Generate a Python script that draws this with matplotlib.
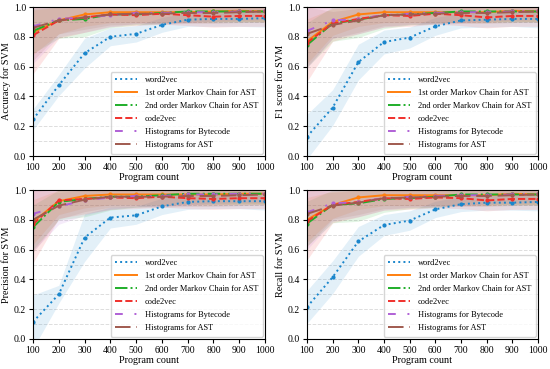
import matplotlib
matplotlib.use("Agg")
import matplotlib.pyplot as plt
import numpy as np

plt.rcParams['font.family'] = ['Liberation Serif', 'DejaVu Serif']
plt.rcParams['mathtext.fontset'] = 'stix'

program_count = [100, 200, 300, 400, 500, 600, 700, 800, 900, 1000]
series_names = ["word2vec", "1st order Markov Chain for AST", "2nd order Markov Chain for AST",
                "code2vec", "Histograms for Bytecode", "Histograms for AST"]

# Accuracy
acc_word2vec = [0.245, 0.475, 0.69, 0.80, 0.82, 0.88, 0.915, 0.92, 0.92, 0.925]
acc_markov1 = [0.83, 0.91, 0.95, 0.965, 0.965, 0.965, 0.965, 0.97, 0.975, 0.97]
acc_markov2 = [0.84, 0.91, 0.92, 0.95, 0.95, 0.96, 0.97, 0.97, 0.97, 0.97]
acc_code2vec = [0.81, 0.91, 0.93, 0.95, 0.945, 0.955, 0.945, 0.935, 0.94, 0.94]
acc_hist_bc = [0.87, 0.92, 0.93, 0.945, 0.96, 0.96, 0.965, 0.965, 0.97, 0.975]
acc_hist_ast = [0.86, 0.91, 0.93, 0.95, 0.955, 0.955, 0.96, 0.96, 0.965, 0.97]

# F1
f1_word2vec = [0.13, 0.325, 0.63, 0.765, 0.795, 0.87, 0.91, 0.915, 0.92, 0.92]
f1_markov1 = [0.77, 0.90, 0.95, 0.965, 0.965, 0.965, 0.965, 0.965, 0.975, 0.97]
f1_markov2 = [0.745, 0.89, 0.915, 0.945, 0.95, 0.96, 0.97, 0.97, 0.97, 0.97]
f1_code2vec = [0.76, 0.89, 0.92, 0.945, 0.94, 0.955, 0.945, 0.93, 0.94, 0.94]
f1_hist_bc = [0.84, 0.91, 0.92, 0.945, 0.955, 0.96, 0.965, 0.965, 0.97, 0.975]
f1_hist_ast = [0.82, 0.88, 0.91, 0.945, 0.95, 0.955, 0.96, 0.96, 0.965, 0.97]

# Precision
prec_word2vec = [0.115, 0.30, 0.68, 0.815, 0.83, 0.89, 0.92, 0.925, 0.925, 0.925]
prec_markov1 = [0.785, 0.925, 0.96, 0.97, 0.97, 0.97, 0.97, 0.97, 0.975, 0.975]
prec_markov2 = [0.75, 0.92, 0.94, 0.955, 0.955, 0.965, 0.975, 0.975, 0.975, 0.975]
prec_code2vec = [0.77, 0.93, 0.94, 0.95, 0.945, 0.955, 0.945, 0.94, 0.945, 0.945]
prec_hist_bc = [0.84, 0.89, 0.93, 0.95, 0.96, 0.96, 0.97, 0.97, 0.975, 0.975]
prec_hist_ast = [0.80, 0.895, 0.935, 0.955, 0.955, 0.955, 0.96, 0.96, 0.965, 0.97]

# Recall
rec_word2vec = [0.215, 0.415, 0.655, 0.765, 0.795, 0.87, 0.905, 0.915, 0.915, 0.92]
rec_markov1 = [0.80, 0.90, 0.95, 0.965, 0.965, 0.965, 0.965, 0.965, 0.975, 0.97]
rec_markov2 = [0.775, 0.90, 0.91, 0.94, 0.945, 0.955, 0.97, 0.97, 0.97, 0.97]
rec_code2vec = [0.79, 0.90, 0.92, 0.945, 0.94, 0.95, 0.945, 0.93, 0.94, 0.94]
rec_hist_bc = [0.85, 0.91, 0.92, 0.945, 0.955, 0.96, 0.965, 0.965, 0.97, 0.975]
rec_hist_ast = [0.84, 0.895, 0.915, 0.945, 0.95, 0.955, 0.96, 0.96, 0.965, 0.97]

# standard deviations (band half-widths)
std_word2vec_acc = [0.07, 0.07, 0.10, 0.06, 0.055, 0.05, 0.045, 0.05, 0.05, 0.06]
std_word2vec_f1 = [0.15, 0.12, 0.12, 0.08, 0.07, 0.06, 0.05, 0.05, 0.05, 0.06]
std_word2vec_prec = [0.18, 0.06, 0.16, 0.07, 0.06, 0.055, 0.05, 0.05, 0.05, 0.06]
std_word2vec_rec = [0.11, 0.11, 0.10, 0.07, 0.065, 0.055, 0.05, 0.05, 0.05, 0.06]
std_markov1 = [0.15, 0.09, 0.08, 0.07, 0.07, 0.07, 0.07, 0.07, 0.07, 0.07]
std_markov2 = [0.15, 0.12, 0.12, 0.09, 0.07, 0.07, 0.07, 0.07, 0.07, 0.07]
std_code2vec = [0.26, 0.12, 0.10, 0.08, 0.07, 0.07, 0.07, 0.07, 0.07, 0.07]
std_hist_bc = [0.25, 0.12, 0.10, 0.08, 0.07, 0.07, 0.07, 0.06, 0.06, 0.06]
std_hist_ast = [0.22, 0.09, 0.08, 0.07, 0.07, 0.07, 0.07, 0.07, 0.07, 0.07]

metrics = [
    ("Accuracy for SVM", [acc_word2vec, acc_markov1, acc_markov2, acc_code2vec, acc_hist_bc, acc_hist_ast], std_word2vec_acc),
    ("F1 score for SVM", [f1_word2vec, f1_markov1, f1_markov2, f1_code2vec, f1_hist_bc, f1_hist_ast], std_word2vec_f1),
    ("Precision for SVM", [prec_word2vec, prec_markov1, prec_markov2, prec_code2vec, prec_hist_bc, prec_hist_ast], std_word2vec_prec),
    ("Recall for SVM", [rec_word2vec, rec_markov1, rec_markov2, rec_code2vec, rec_hist_bc, rec_hist_ast], std_word2vec_rec),
]
other_stds = [std_markov1, std_markov2, std_code2vec, std_hist_bc, std_hist_ast]

colors = ['#1a86cc', '#ff7f0e', '#1fae2a', '#f0302c', '#b061d6', '#a05a4f']
styles = [':', '-', '-.', '--', (0, (4, 6, 1, 6)), (0, (8, 3))]

fig = plt.figure(figsize=(5.5, 3.69), dpi=100)
positions = [
    [33/550, 1 - 156/369, 232/550, 149/369],
    [307/550, 1 - 156/369, 231/550, 149/369],
    [33/550, 1 - 339/369, 232/550, 149/369],
    [307/550, 1 - 339/369, 231/550, 149/369],
]

x = np.array(program_count)
for (ylabel, vals, w2v_std), pos in zip(metrics, positions):
    ax = fig.add_axes(pos)
    stds = [w2v_std] + other_stds
    for i, (name, v, s) in enumerate(zip(series_names, vals, stds)):
        v = np.array(v)
        s = np.array(s)
        ax.fill_between(x, v - s, np.minimum(v + s, 1.0), color=colors[i], alpha=0.12, linewidth=0)
        ax.plot(x, v, linestyle=styles[i], color=colors[i], marker='.', markersize=4,
                linewidth=1.4, label=name)
    ax.set_xlim(100, 1000)
    ax.set_ylim(0, 1.0)
    ax.set_xticks(program_count)
    ax.set_yticks(np.arange(0, 1.01, 0.2))
    ax.set_yticks(np.arange(0.1, 1.0, 0.2), minor=True)
    ax.tick_params(which='minor', length=0)
    ax.grid(True, axis='y', which='both', linestyle='--', color='#dddddd', linewidth=0.7)
    ax.set_axisbelow(True)
    ax.tick_params(labelsize=7, length=3, pad=2)
    ax.set_xlabel("Program count", fontsize=7.3, labelpad=1)
    ax.set_ylabel(ylabel, fontsize=7.3, labelpad=2)
    leg = ax.legend(loc='lower right', fontsize=6, handlelength=2.6, handletextpad=1.0,
                    labelspacing=0.6, borderpad=0.5, borderaxespad=0.3, framealpha=0.8)
    for h in leg.legend_handles:
        h.set_marker('')

fig.savefig("out.png", dpi=100)
